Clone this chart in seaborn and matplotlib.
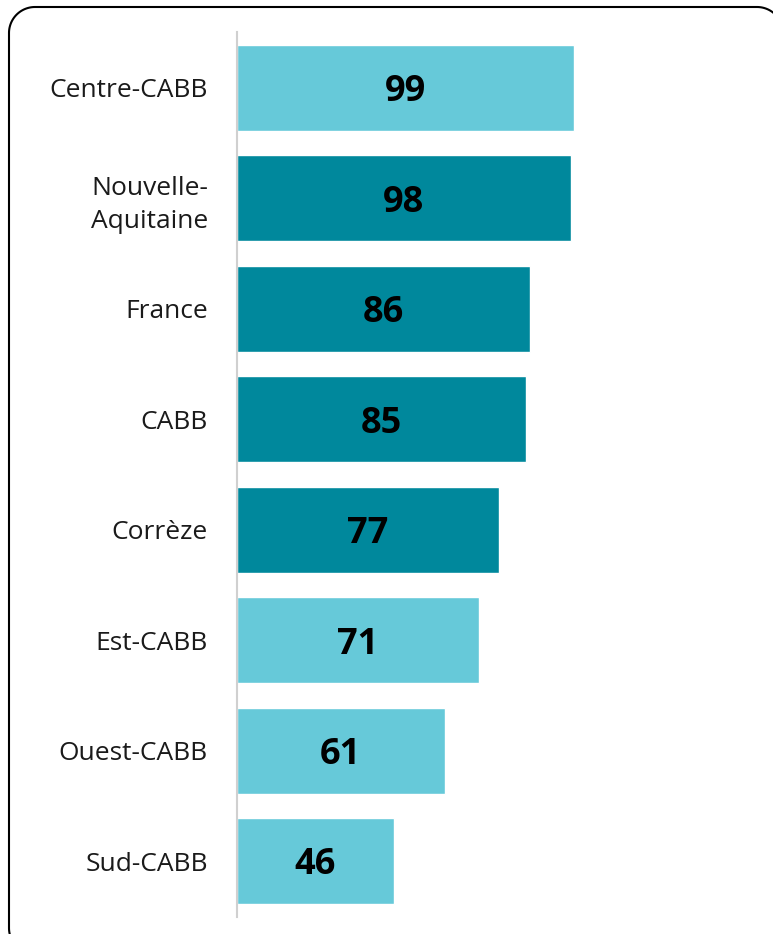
import matplotlib
matplotlib.use("Agg")
import matplotlib.pyplot as plt
import seaborn as sns
import pandas as pd
import numpy as np
from matplotlib.lines import Line2D
from matplotlib.transforms import IdentityTransform

categories = ["Centre-CABB", "Nouvelle-\nAquitaine", "France", "CABB", "Corrèze",
              "Est-CABB", "Ouest-CABB", "Sud-CABB"]
values = [99, 98, 86, 85, 77, 71, 61, 46]
groups = ["local", "ref", "ref", "ref", "ref", "local", "local", "local"]
palette = {"local": "#66C9D9", "ref": "#00889C"}

sns.set_theme(style="white")
plt.rcParams['font.family'] = ['Open Sans', 'DejaVu Sans']

W, H = 773, 934
fig = plt.figure(figsize=(W / 100, H / 100), dpi=100)
ax = fig.add_axes([237 / W, 1 - 917 / H, (773 - 237) / W, (917 - 32) / H])

df = pd.DataFrame({"cat": categories, "val": values, "grp": groups})
sns.barplot(data=df, x="val", y="cat", hue="grp", palette=palette, dodge=False,
            width=0.78, legend=False, ax=ax, saturation=1)

ax.set_xlim(0, 536 / 3.404)
ax.set_ylim(7.507, -0.507)
ax.set_xlabel("")
ax.set_ylabel("")
ax.set_xticks([])
for s in ["top", "right", "bottom"]:
    ax.spines[s].set_visible(False)
ax.spines["left"].set_color("#D0D0D0")
ax.spines["left"].set_linewidth(1.5)
ax.tick_params(axis="y", length=0, pad=21, labelsize=19, labelcolor="#1a1a1a")
for lab in ax.get_yticklabels():
    lab.set_horizontalalignment("right")
    lab.set_multialignment("right")
    lab.set_linespacing(1.4)

for i, v in enumerate(values):
    ax.text(v / 2, i + 0.04, str(v), ha="center", va="center", fontsize=26,
            fontweight="bold", color="black")

# decorative rounded frame (pixel coordinates, partly off-canvas like the original)
left, right, top, bottom, r = 9.0, 783.0, 927.0, -20.0, 26.0
def arc(cx, cy, a0, a1):
    t = np.radians(np.linspace(a0, a1, 30))
    return cx + r * np.cos(t), cy + r * np.sin(t)
xs, ys = [], []
for cx, cy, a0, a1 in [(right - r, top - r, 0, 90), (left + r, top - r, 90, 180),
                       (left + r, bottom + r, 180, 270), (right - r, bottom + r, 270, 360)]:
    ax_, ay_ = arc(cx, cy, a0, a1)
    xs.extend(ax_); ys.extend(ay_)
xs.append(xs[0]); ys.append(ys[0])
frame = Line2D(xs, ys, transform=IdentityTransform(), color="black", linewidth=1.5,
               solid_joinstyle="round")
fig.lines.append(frame)

fig.savefig("out.png", dpi=100)
